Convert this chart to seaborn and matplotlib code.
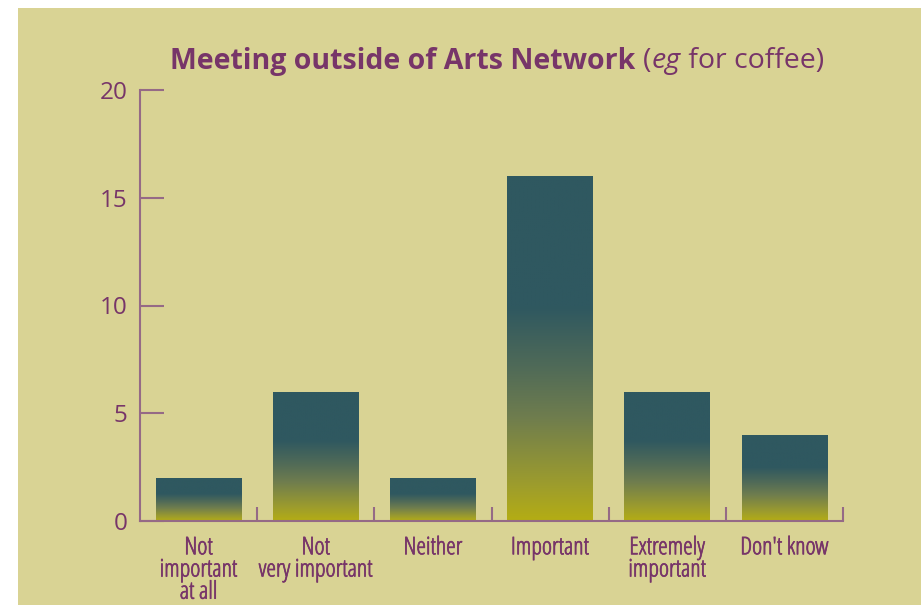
import numpy as np
import pandas as pd
import matplotlib
matplotlib.use("Agg")
import matplotlib.pyplot as plt
import seaborn as sns
from matplotlib import font_manager as fm
from matplotlib.colors import LinearSegmentedColormap
from matplotlib.patches import Rectangle
import matplotlib.patheffects as pe

categories = ["Not\nimportant\nat all", "Not\nvery important", "Neither",
              "Important", "Extremely\nimportant", "Don't know"]
values = [2, 6, 2, 16, 6, 4]
yticks = [0, 5, 10, 15, 20]
title_bold = "Meeting outside of Arts Network"
title_rest = [("(", "normal"), ("eg", "italic"), (" for coffee)", "normal")]

BG = "#d9d394"
TEXT = "#773569"
AXIS = "#956a86"
TEAL = "#2f5860"
YELLOW = "#b4ad14"

sns.set_theme(style="white")
avail = {f.name for f in fm.fontManager.ttflist}
main_font = "Open Sans" if "Open Sans" in avail else "DejaVu Sans"
narrow = "Liberation Sans Narrow" if "Liberation Sans Narrow" in avail else None
plt.rcParams["font.family"] = [main_font, "DejaVu Sans"]

df = pd.DataFrame({"cat": categories, "val": values})

fig = plt.figure(figsize=(9.21, 6.05), dpi=100, facecolor="white")
fig.patches.append(Rectangle((18 / 921, 0), 1, 1 - 8 / 605, transform=fig.transFigure,
                             facecolor=BG, edgecolor="none", zorder=-10))
ax = fig.add_axes([140 / 921, 1 - 521 / 605, (843 - 140) / 921, (521 - 90) / 605])
ax.set_facecolor("none")

sns.barplot(data=df, x="cat", y="val", ax=ax, width=0.73, color=TEAL, edgecolor="none")

cmap = LinearSegmentedColormap.from_list(
    "g", [(0.0, YELLOW), (0.1, "#9e9d2c"), (0.3, "#6f7d4e"), (0.45, "#4f6a58"),
          (0.62, TEAL), (1.0, TEAL)])
grad = np.linspace(0, 1, 256).reshape(-1, 1)
for p in list(ax.patches):
    x0, y0 = p.get_x(), p.get_y()
    w, h = p.get_width(), p.get_height()
    p.set_facecolor("none")
    im = ax.imshow(grad, cmap=cmap, origin="lower", aspect="auto",
                   extent=[x0, x0 + w, y0, y0 + h], zorder=2, interpolation="bilinear")
    im.set_clip_path(p)

ax.set_xlim(-0.5, len(categories) - 0.5)
ax.set_ylim(0, 20)
ax.set_yticks(yticks)
ax.set_xlabel("")
ax.set_ylabel("")

for s in ["top", "right"]:
    ax.spines[s].set_visible(False)
for s in ["left", "bottom"]:
    ax.spines[s].set_color(AXIS)
    ax.spines[s].set_linewidth(1.5)
    ax.spines[s].set_zorder(5)

ax.tick_params(axis="y", direction="in", length=17, width=1.5, color=AXIS,
               labelcolor=TEXT, labelsize=17.5, pad=9, left=True)
ax.tick_params(axis="x", which="major", length=0, pad=11, labelcolor=TEXT, bottom=True)
ax.set_xticks(np.arange(len(categories)) + 0.5, minor=True)
ax.tick_params(axis="x", which="minor", direction="in", length=10, width=1.5, color=AXIS,
               bottom=True)
for lab in ax.get_xticklabels():
    if narrow:
        lab.set_family([narrow, "DejaVu Sans"])
    else:
        lab.set_fontstretch("condensed")
    lab.set_fontsize(17.5)
    lab.set_linespacing(0.9)
    lab.set_verticalalignment("top")
    lab.set_path_effects([pe.withStroke(linewidth=0.5, foreground=TEXT)])

# Title with mixed styles
fig.canvas.draw()
r = fig.canvas.get_renderer()
ty = 1 - 61 / 605
fs = 20.5
pieces = [(title_bold + " ", "normal", "bold")] + [(t, st, "normal") for t, st in title_rest]
texts = []
for txt, style, weight in pieces:
    t = fig.text(0, ty, txt, fontsize=fs, fontstyle=style, fontweight=weight,
                 color=TEXT, va="center", ha="left")
    texts.append(t)
widths = [t.get_window_extent(r).width for t in texts]
total = sum(widths)
cx = 497
start = cx - total / 2
for t, wdt in zip(texts, widths):
    t.set_x(start / 921)
    start += wdt

fig.savefig("out.png", dpi=100, facecolor="white")
